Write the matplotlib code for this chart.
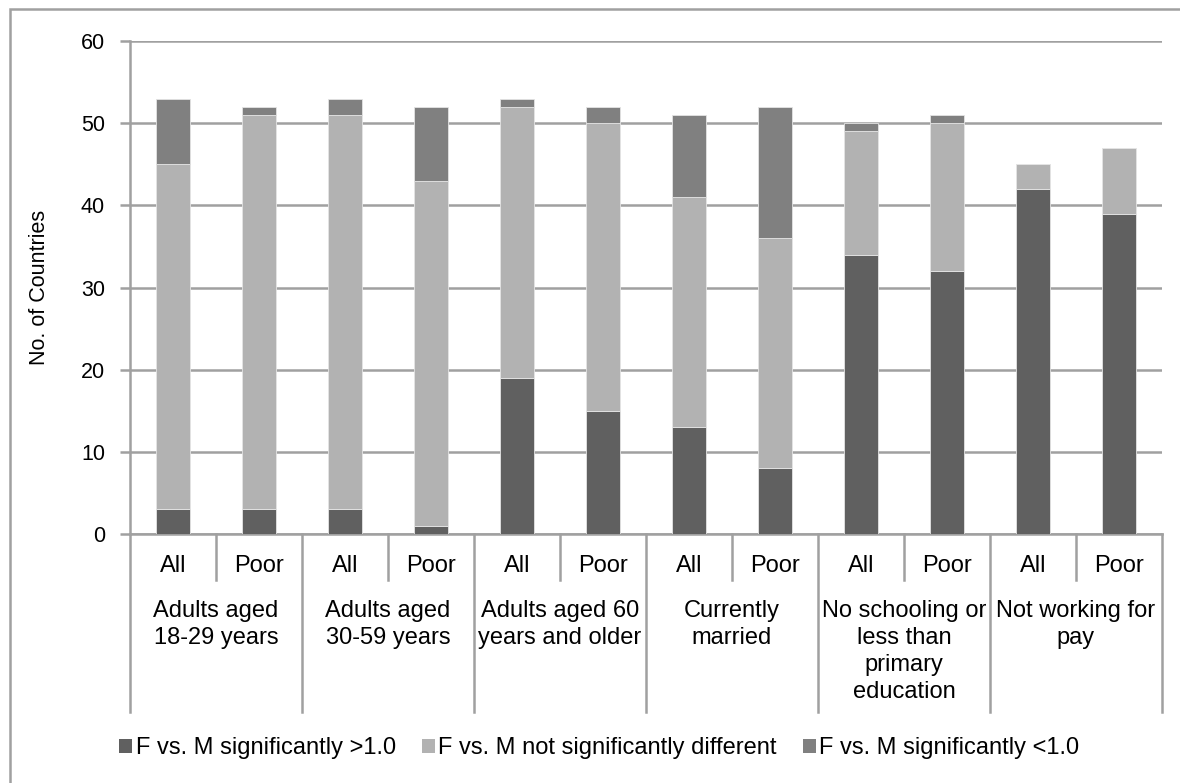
import matplotlib
matplotlib.use('Agg')
import matplotlib.pyplot as plt
from matplotlib import transforms as mtransforms
from matplotlib.patches import Patch, Rectangle
import numpy as np

plt.rcParams['font.family'] = ['Liberation Sans', 'DejaVu Sans']

groups = ['Adults aged\n18-29 years', 'Adults aged\n30-59 years',
          'Adults aged 60\nyears and older', 'Currently\nmarried',
          'No schooling or\nless than\nprimary\neducation', 'Not working for\npay']
subs = ['All', 'Poor']
series_names = ['F vs. M significantly >1.0',
                'F vs. M not significantly different',
                'F vs. M significantly <1.0']
sig_gt = [3, 3, 3, 1, 19, 15, 13, 8, 34, 32, 42, 39]
not_sig = [42, 48, 48, 42, 33, 35, 28, 28, 15, 18, 3, 8]
sig_lt = [8, 1, 2, 9, 1, 2, 10, 16, 1, 1, 0, 0]
colors = ['#606060', '#b2b2b2', '#808080']
grey = '#a0a0a0'

W, H = 1180, 783
fig = plt.figure(figsize=(W / 100, H / 100), dpi=100)
ax = fig.add_axes([130 / W, 1 - 534 / H, (1162 - 130) / W, (534 - 41) / H])

x = np.arange(len(sig_gt))
bottom = np.zeros(len(x))
for vals, c, name in zip([sig_gt, not_sig, sig_lt], colors, series_names):
    ax.bar(x, vals, 0.385, bottom=bottom, color=c, edgecolor='#e4e4e4',
           linewidth=0.6, label=name, zorder=3)
    bottom += np.array(vals)

ax.set_xlim(-0.5, len(x) - 0.5)
ax.set_ylim(0, 60)
ax.set_yticks(range(0, 61, 10))
ax.yaxis.grid(True, color=grey, linewidth=1.8, zorder=0)
ax.set_axisbelow(True)
for s in ['top', 'right']:
    ax.spines[s].set_visible(False)
for s in ['left', 'bottom']:
    ax.spines[s].set_color(grey)
    ax.spines[s].set_linewidth(1.8)
ax.tick_params(axis='y', length=7, width=1.8, color=grey, labelsize=15.5, pad=11)
ax.tick_params(axis='x', bottom=False, labelbottom=False)
ax.set_ylabel('No. of Countries', fontsize=15.5, labelpad=22)

# category table under the axis
tr = mtransforms.blended_transform_factory(ax.transData, fig.transFigure)
y0 = 1 - 534 / H
y_sub = 1 - 580 / H
y_grp = 1 - 712 / H
for i in range(len(x) + 1):
    xe = i - 0.5
    y_end = y_grp if i % 2 == 0 else y_sub
    ax.plot([xe, xe], [y0, y_end], color=grey, lw=1.8, transform=tr, clip_on=False)
for i in x:
    ax.text(i, 1 - 566 / H, subs[i % 2], transform=tr, ha='center', va='center',
            fontsize=17)
for g, label in enumerate(groups):
    ax.text(2 * g + 0.5, 1 - 600 / H, label, transform=tr, ha='center', va='top',
            fontsize=17, linespacing=1.3)

handles = [Patch(facecolor=c, edgecolor='none') for c in colors]
fig.legend(handles, series_names, loc='center left', bbox_to_anchor=(98 / W, 1 - 748 / H),
           ncol=3, frameon=False, fontsize=17, handlelength=0.55, handleheight=0.55,
           handletextpad=0.15, columnspacing=1.1)

# outer frame
fig.patches.append(Rectangle((10 / W, -0.05), 1.2, 1 - 9 / H + 0.05, transform=fig.transFigure,
                             fill=False, edgecolor=grey, linewidth=1.8))

fig.savefig('out.png', dpi=100)
